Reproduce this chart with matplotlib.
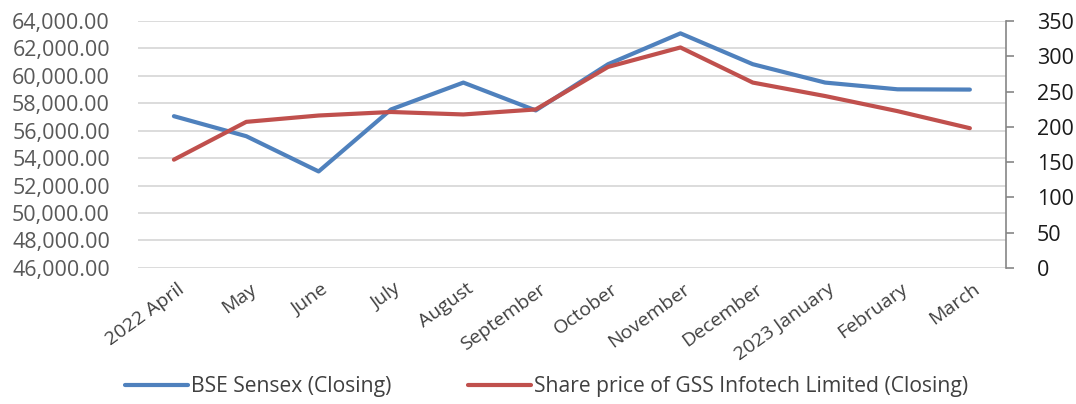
import matplotlib
matplotlib.use("Agg")
import matplotlib.pyplot as plt
import matplotlib.transforms as mtransforms
from matplotlib.ticker import FuncFormatter, MultipleLocator

# ─── Data ─────────────────────────────────────────────────────────────────────
months = ["2022 April", "May", "June", "July", "August", "September",
          "October", "November", "December", "2023 January", "February", "March"]
sensex = [57060, 55600, 53030, 57550, 59510, 57480,
          60850, 63100, 60850, 59510, 59020, 59000]
gss_price = [153.4, 207.0, 216.0, 221.0, 217.5, 224.6,
             284.9, 312.5, 262.7, 243.6, 222.2, 198.0]

BLUE = "#4F81BD"
RED = "#C0504D"
GRID = "#D9D9D9"
TXT = "#595959"
FONT = ["Open Sans", "DejaVu Sans"]

plt.rcParams["font.family"] = FONT

fig = plt.figure(figsize=(10.76, 4.04), dpi=100)
ax = fig.add_axes([0.128, 0.337, 0.807, 0.611])
ax2 = ax.twinx()

x = range(len(months))
l1, = ax.plot(x, sensex, color=BLUE, lw=3.0, solid_capstyle="round",
              label="BSE Sensex (Closing)", zorder=3)
l2, = ax2.plot(x, gss_price, color=RED, lw=3.0, solid_capstyle="round",
               label="Share price of GSS Infotech Limited (Closing)", zorder=3)

# ─── Left axis ────────────────────────────────────────────────────────────────
ax.set_xlim(-0.5, len(months) - 0.5)
ax.set_ylim(46000, 64000)
ax.yaxis.set_major_locator(MultipleLocator(2000))
ax.yaxis.set_major_formatter(FuncFormatter(lambda v, p: f"{v:,.2f}"))
ax.grid(axis="y", color=GRID, lw=1.3)
ax.set_axisbelow(True)
ax.tick_params(axis="y", length=0, pad=20, labelsize=15.5, labelcolor=TXT)
for s in ["left", "top", "bottom", "right"]:
    ax.spines[s].set_visible(False)

# ─── Right axis ───────────────────────────────────────────────────────────────
ax2.set_ylim(0, 350)
ax2.yaxis.set_major_locator(MultipleLocator(50))
for s in ["left", "top", "bottom"]:
    ax2.spines[s].set_visible(False)
ax2.spines["right"].set_color("#868686")
ax2.spines["right"].set_linewidth(1.2)
ax2.tick_params(axis="y", length=6, width=1.2, color="#868686",
                pad=16, labelsize=15.5, labelcolor="#1a1a1a")

# ─── Category axis ────────────────────────────────────────────────────────────
ax.set_xticks(list(x))
ax.set_xticklabels(months, rotation=36, ha="right", va="center",
                   rotation_mode="anchor", fontsize=14, color="#404040")
ax.tick_params(axis="x", length=0, pad=14)
shift = mtransforms.ScaledTranslation(8 / 100, 0, fig.dpi_scale_trans)
for lab in ax.get_xticklabels():
    lab.set_transform(lab.get_transform() + shift)

fig.legend(handles=[l1, l2], loc="lower center", bbox_to_anchor=(0.508, -0.03),
           ncol=2, frameon=False, handlelength=3.0, handletextpad=0.15,
           columnspacing=3.6, prop={"size": 15.2})
for t in fig.legends[0].get_texts():
    t.set_color("#404040")

fig.savefig("out.png", dpi=100)
